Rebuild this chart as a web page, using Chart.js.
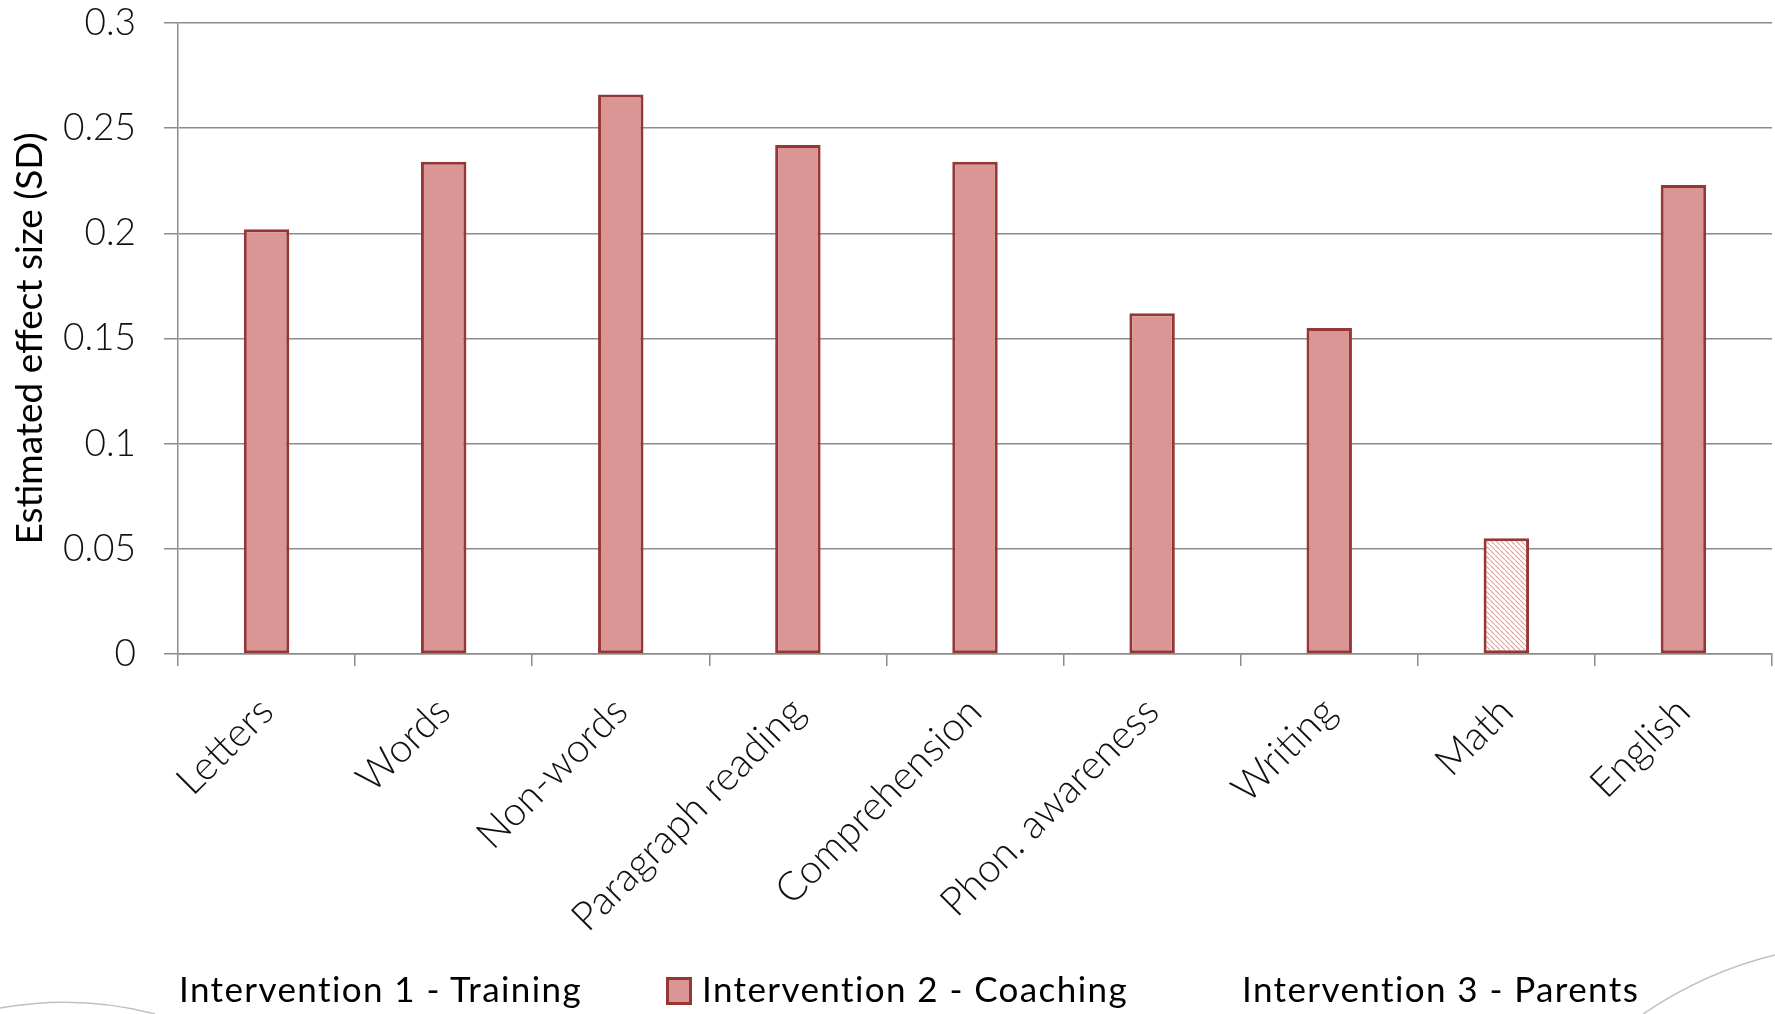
<!DOCTYPE html>
<html>
<head>
<meta charset="utf-8">
<title>Estimated effect size by outcome</title>
<script src="https://cdn.jsdelivr.net/npm/chart.js@4/dist/chart.umd.min.js"></script>
<style>
  html, body { margin: 0; padding: 0; background: #fff; }
  #wrap { width: 1775px; height: 1014px; position: relative; }
  #legend { position: absolute; left: 0; top: 968px; width: 100%; height: 40px; }
  .item {
    position: absolute; top: 0; display: flex; align-items: center;
    font: 35px Lato, sans-serif; letter-spacing: 1.4px; line-height: 40px; color: #000;
    white-space: nowrap;
  }
  .box { width: 20px; height: 22px; margin: 6px 10px 0 0; border: 3px solid; box-sizing: content-box; }
</style>
</head>
<body>
<div id="wrap">
  <canvas id="effectChart"></canvas>
  <div id="legend"></div>
</div>
<script>
// outcomes on the x axis
const outcomes = ["Letters", "Words", "Non-words", "Paragraph reading", "Comprehension",
                  "Phon. awareness", "Writing", "Math", "English"];

// estimated effect sizes (SD) per intervention
const training = [null, null, null, null, null, null, null, null, null];
const coaching = [0.202, 0.234, 0.266, 0.242, 0.234, 0.162, 0.155, 0.055, 0.223];
const parents  = [null, null, null, null, null, null, null, null, null];

// outcomes drawn with a hatched fill
const hatched = [false, false, false, false, false, false, false, true, false];

const yTicks = [0, 0.05, 0.1, 0.15, 0.2, 0.25, 0.3];

const FILL = "#d99694";
const EDGE = "#953735";
const GRID = "#8c8c8c";
const NONE = "rgba(0,0,0,0)";

function makeHatch() {
    const c = document.createElement("canvas");
    c.width = 5;
    c.height = 5;
    const g = c.getContext("2d");
    g.fillStyle = "#ffffff";
    g.fillRect(0, 0, 5, 5);
    g.fillStyle = "#e0a3a1";
    for (let i = 0; i < 5; i += 1) {
        g.fillRect(i, i, 1.3, 1.3);
    }
    return g.createPattern(c, "repeat");
}
const hatch = makeHatch();

// faint curved strokes along the bottom edge
const edgeCurves = {
    id: "edgeCurves",
    afterDraw(chart) {
        const ctx = chart.ctx;
        const w = chart.width, h = chart.height;
        ctx.save();
        ctx.strokeStyle = "rgba(150,150,150,0.6)";
        ctx.lineWidth = 1.5;
        ctx.beginPath();
        ctx.moveTo(0, h - 6);
        ctx.quadraticCurveTo(80, h - 20, 155, h);
        ctx.stroke();
        ctx.beginPath();
        ctx.moveTo(w - 132, h);
        ctx.quadraticCurveTo(w - 70, h - 42, w, h - 59);
        ctx.stroke();
        ctx.restore();
    }
};

const ctx = document.getElementById("effectChart").getContext("2d");

const chart = new Chart(ctx, {
    type: "bar",
    data: {
        labels: outcomes,
        datasets: [
            {
                label: "Intervention 1 - Training",
                data: training,
                backgroundColor: NONE,
                borderColor: NONE,
                borderWidth: 0
            },
            {
                label: "Intervention 2 - Coaching",
                data: coaching,
                backgroundColor: (c) => (c.dataIndex !== undefined && hatched[c.dataIndex]) ? hatch : FILL,
                borderColor: EDGE,
                borderWidth: 3,
                borderSkipped: false
            },
            {
                label: "Intervention 3 - Parents",
                data: parents,
                backgroundColor: NONE,
                borderColor: NONE,
                borderWidth: 0
            }
        ]
    },
    options: {
        responsive: true,
        maintainAspectRatio: false,
        animation: false,
        categoryPercentage: 0.77,
        barPercentage: 1,
        layout: { padding: { top: 0, right: 3, bottom: 0, left: 0 } },
        plugins: {
            tooltip: { enabled: false },
            legend: { display: false }
        },
        scales: {
            x: {
                afterFit(scale) { scale.height = 360; },
                border: { color: GRID, width: 1.5 },
                grid: {
                    drawOnChartArea: false,
                    offset: true,
                    color: GRID,
                    lineWidth: 1.5,
                    tickLength: 12
                },
                ticks: {
                    minRotation: 45,
                    maxRotation: 45,
                    padding: 22,
                    color: "#111",
                    font: { family: "Lato", weight: "300", size: 40 }
                }
            },
            y: {
                min: 0,
                max: 0.3,
                afterFit(scale) {
                    scale.width = 178;
                    scale.paddingTop = 23;
                    scale.paddingBottom = 0;
                },
                afterBuildTicks(scale) {
                    scale.ticks = yTicks.map(v => ({ value: v }));
                },
                border: { color: GRID, width: 1.5 },
                grid: {
                    color: GRID,
                    lineWidth: 1.5,
                    tickLength: 14
                },
                ticks: {
                    padding: 28,
                    color: "#111",
                    font: { family: "Lato", weight: "300", size: 37 },
                    callback: (v) => String(v)
                },
                title: {
                    display: true,
                    text: "Estimated effect size (SD)",
                    color: "#000",
                    font: { family: "Lato", size: 37 },
                    padding: { top: 8, bottom: 0 }
                }
            }
        }
    },
    plugins: [edgeCurves]
});

// legend row under the axis labels, one entry per dataset
const legendLeft = [179, 666, 1242];
const legendEl = document.getElementById("legend");
chart.data.datasets.forEach((ds, i) => {
    const item = document.createElement("div");
    item.className = "item";
    item.style.left = legendLeft[i] + "px";
    if (ds.borderWidth > 0) {
        const box = document.createElement("span");
        box.className = "box";
        box.style.background = FILL;
        box.style.borderColor = ds.borderColor;
        item.appendChild(box);
    }
    item.appendChild(document.createTextNode(ds.label));
    legendEl.appendChild(item);
});
</script>
</body>
</html>
